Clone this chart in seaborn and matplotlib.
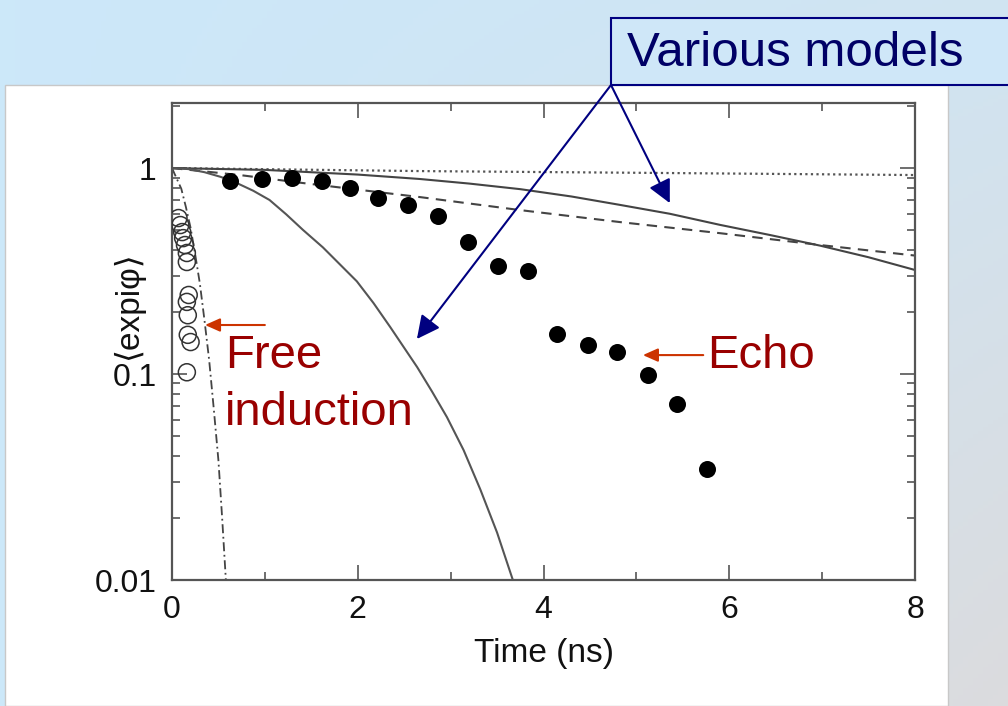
import numpy as np
import pandas as pd
import seaborn as sns
import matplotlib.pyplot as plt
from matplotlib.patches import Rectangle
from matplotlib.ticker import LogLocator, FixedLocator, MultipleLocator, NullFormatter

# echo data (filled circles)
echo_t = [0.62, 0.97, 1.29, 1.61, 1.92, 2.22, 2.54, 2.86, 3.19, 3.51, 3.83,
          4.15, 4.48, 4.79, 5.12, 5.44, 5.76]
echo_y = [0.865, 0.885, 0.90, 0.865, 0.80, 0.715, 0.66, 0.585, 0.437, 0.334, 0.316,
          0.156, 0.138, 0.128, 0.099, 0.0715, 0.0346]

# free induction data (open circles)
free_t = [0.07, 0.09, 0.11, 0.12, 0.14, 0.16, 0.16, 0.18, 0.16, 0.17, 0.17, 0.20, 0.16]
free_y = [0.572, 0.529, 0.489, 0.457, 0.423, 0.387, 0.350, 0.242, 0.224, 0.193,
          0.155, 0.143, 0.102]

# model curves
steep_t = [0, 0.175, 0.35, 0.525, 0.70, 0.875, 1.05, 1.23, 1.41, 1.625, 1.99, 2.17,
           2.35, 2.64, 2.8, 2.96, 3.14, 3.32, 3.5, 3.67]
steep_y = [1.0, 0.989, 0.955, 0.906, 0.845, 0.776, 0.700, 0.596, 0.501, 0.412, 0.282,
           0.221, 0.169, 0.108, 0.0822, 0.0618, 0.0427, 0.0275, 0.0170, 0.010]

dashdot_t = [0, 0.05, 0.10, 0.15, 0.20, 0.25, 0.30, 0.35, 0.40, 0.45, 0.50, 0.54, 0.58]
dashdot_y = [1.0, 0.89, 0.794, 0.646, 0.513, 0.38, 0.275, 0.182, 0.117, 0.0676, 0.038,
             0.020, 0.010]

upper_t = [0, 1, 2, 2.67, 3.2, 3.75, 4.3, 4.82, 5.36, 5.9, 6.44, 6.98, 7.5, 8]
upper_y = [1.0, 0.98, 0.93, 0.885, 0.841, 0.79, 0.728, 0.663, 0.60, 0.53, 0.473,
           0.42, 0.369, 0.32]

dashed_t = [0, 0.73, 1.41, 2.31, 2.67, 3.75, 4.82, 5.9, 6.98, 8]
dashed_y = [1.0, 0.925, 0.846, 0.756, 0.723, 0.625, 0.547, 0.483, 0.423, 0.376]

dotted_t = [0, 2.67, 5.36, 8]
dotted_y = [1.0, 0.967, 0.946, 0.925]

y_ticks = [0.01, 0.1, 1]
y_ticklabels = ['0.01', '0.1', '1']
x_ticks = [0, 2, 4, 6, 8]

W, H = 1008, 706

sns.set_theme(style='ticks')
plt.rcParams['font.family'] = ['Liberation Sans', 'DejaVu Sans']

fig = plt.figure(figsize=(W / 100, H / 100), dpi=100)

# slide background
bg = fig.add_axes([0, 0, 1, 1], zorder=-10)
gx, gy = np.meshgrid(np.linspace(0, 1, 200), np.linspace(0, 1, 200))
w = gx * (0.3 + 0.7 * gy)
c1 = np.array([0.80, 0.91, 0.98])
c2 = np.array([0.86, 0.86, 0.87])
grad = c1[None, None, :] * (1 - w[..., None]) + c2[None, None, :] * w[..., None]
bg.imshow(grad, extent=[0, 1, 0, 1], aspect='auto', origin='upper')
bg.add_patch(Rectangle((5 / W, 0), 943 / W, 621 / H, transform=bg.transAxes,
                       fc='white', ec='#C8C8C8', lw=1))
bg.add_patch(Rectangle((611 / W, 1 - 85 / H), 0.45, 67 / H, transform=bg.transAxes,
                       fc='#CFE7F8', ec='#000080', lw=1.5))
bg.set_xlim(0, 1)
bg.set_ylim(0, 1)
bg.axis('off')

ax = fig.add_axes([172 / W, 1 - 580 / H, 743 / W, 477 / H])
ax.set_facecolor('white')
ax.set_yscale('log')

line_col = '#444444'
sns.lineplot(x=dotted_t, y=dotted_y, ax=ax, color='#555555', lw=1.6, linestyle=(0, (1, 1.5)), estimator=None)
sns.lineplot(x=upper_t, y=upper_y, ax=ax, color=line_col, lw=1.5, estimator=None)
sns.lineplot(x=dashed_t, y=dashed_y, ax=ax, color=line_col, lw=1.5, linestyle=(0, (5, 3.5)), estimator=None)
sns.lineplot(x=steep_t, y=steep_y, ax=ax, color='#555555', lw=1.5, estimator=None)
sns.lineplot(x=dashdot_t, y=dashdot_y, ax=ax, color=line_col, lw=1.3, linestyle=(0, (5, 2, 1, 2)), estimator=None)

sns.scatterplot(x=free_t, y=free_y, ax=ax, s=150, facecolors='none',
                edgecolors='#333333', linewidth=1.1, zorder=3)
sns.scatterplot(x=echo_t, y=echo_y, ax=ax, s=150, color='black',
                edgecolor='black', linewidth=0, zorder=3)

ax.set_xlim(0, 8)
ax.set_ylim(0.01, 2.07)
ax.xaxis.set_major_locator(FixedLocator(x_ticks))
ax.xaxis.set_minor_locator(MultipleLocator(1))
ax.yaxis.set_major_locator(FixedLocator(y_ticks))
ax.set_yticklabels(y_ticklabels)
ax.yaxis.set_minor_locator(LogLocator(base=10, subs=np.arange(2, 10)))
ax.yaxis.set_minor_formatter(NullFormatter())
ax.tick_params(which='both', direction='in', top=True, right=True, color='#555555',
               width=1.2, labelsize=23, labelcolor='#111111', pad=11)
ax.tick_params(which='major', length=11)
ax.tick_params(which='minor', length=6)
for sp in ax.spines.values():
    sp.set_color('#555555')
    sp.set_linewidth(1.6)
ax.set_xlabel('Time (ns)', fontsize=24, color='#111111', labelpad=9)
ax.set_ylabel('')

fig.text(128 / W, 1 - 306 / H, '⟨expiφ⟩', rotation=90, ha='center', va='center',
         fontsize=24, color='#111111')

# red annotations
red = '#990000'
ax.text(0.57, 0.107, 'Free', color=red, fontsize=34, va='baseline', ha='left')
ax.text(0.57, 0.0565, 'induction', color=red, fontsize=34, va='baseline', ha='left')
ax.text(5.76, 0.107, 'Echo', color=red, fontsize=34, va='baseline', ha='left')
red_arrow = dict(arrowstyle='-|>,head_length=0.45,head_width=0.2', color='#CC3300',
                 lw=1.5, mutation_scale=20, shrinkA=0, shrinkB=0)
ax.annotate('', xy=(0.355, 0.173), xytext=(1.0, 0.173), arrowprops=red_arrow)
ax.annotate('', xy=(5.07, 0.1236), xytext=(5.72, 0.1236), arrowprops=red_arrow)

# callout
fig.text(627 / W, 1 - 53 / H, 'Various models', color='#000066', fontsize=35.5,
         ha='left', va='center')
navy_arrow = dict(arrowstyle='-|>,head_length=0.7,head_width=0.35', color='#000080',
                  lw=1.5, mutation_scale=20, shrinkA=0, shrinkB=0)
corner = (611 / W, 1 - 85 / H)
ax.annotate('', xy=(2.637, 0.148), xycoords='data', xytext=corner,
            textcoords='figure fraction', arrowprops=navy_arrow, annotation_clip=False)
ax.annotate('', xy=(5.36, 0.676), xycoords='data', xytext=corner,
            textcoords='figure fraction', arrowprops=navy_arrow, annotation_clip=False)

fig.savefig('out.png', dpi=100)
